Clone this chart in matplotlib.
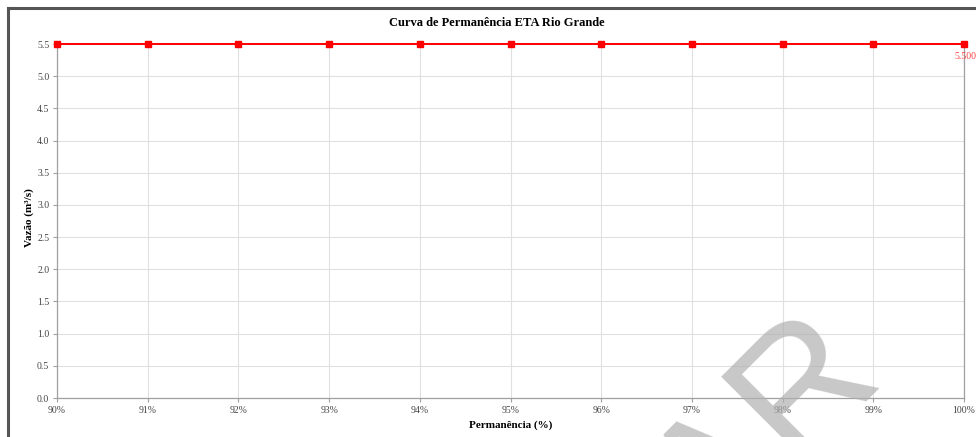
import matplotlib
matplotlib.use("Agg")
import matplotlib.pyplot as plt
from matplotlib.lines import Line2D
from matplotlib.ticker import FuncFormatter, MultipleLocator

# Data
permanencia = [90, 91, 92, 93, 94, 95, 96, 97, 98, 99, 100]
vazao = [5.5, 5.5, 5.5, 5.5, 5.5, 5.5, 5.5, 5.5, 5.5, 5.5, 5.5]
last_label = "5.500"
title = "Curva de Permanência ETA Rio Grande"
xlabel = "Permanência (%)"
ylabel = "Vazão (m³/s)"
watermark = "PRELIMINAR"

W, H = 976, 437
fig = plt.figure(figsize=(W / 100, H / 100), dpi=100)
fig.patch.set_facecolor("white")

def fx(px):
    return px / W

def fy(py):
    return 1 - py / H

ax = fig.add_axes([fx(57), fy(398), fx(964) - fx(57), fy(44) - fy(398)])
serif = ["Liberation Serif", "DejaVu Serif"]

ax.plot(permanencia, vazao, color="#ff0000", lw=1.4, marker="s", ms=4.5,
        mfc="#ff0000", mec="#ff0000", zorder=5, clip_on=False)
ax.annotate(last_label, (permanencia[-1], vazao[-1]), xytext=(1, -6),
            textcoords="offset points", ha="center", va="top",
            color="#ff4040", fontsize=7, family=serif)

ax.set_xlim(90, 100)
ax.set_ylim(0, 5.5)
ax.xaxis.set_major_locator(MultipleLocator(1))
ax.yaxis.set_major_locator(MultipleLocator(0.5))
ax.xaxis.set_major_formatter(FuncFormatter(lambda v, p: f"{v:.0f}%"))
ax.yaxis.set_major_formatter(FuncFormatter(lambda v, p: f"{v:.1f}"))
ax.grid(True, color="#e0e0e0", lw=0.8)
ax.set_axisbelow(True)
for side in ["left", "bottom", "right"]:
    ax.spines[side].set_color("#a0a0a0")
    ax.spines[side].set_linewidth(0.9)
ax.spines["top"].set_visible(False)
ax.tick_params(axis="both", colors="#a0a0a0", labelcolor="#444444",
               labelsize=7, length=3, width=0.8, pad=2.5)
for lab in ax.get_xticklabels() + ax.get_yticklabels():
    lab.set_family(serif)

ax.set_xlabel(xlabel, family=serif, fontsize=8, fontweight="bold", labelpad=4)
ax.set_ylabel(ylabel, family=serif, fontsize=8, fontweight="bold", labelpad=3)
ax.yaxis.set_label_coords(-(57 - 34) / (964 - 57), (398 - 218) / (398 - 44))
fig.text(fx(497), fy(23), title, family=serif, fontsize=9, fontweight="bold",
         ha="center", va="center")

# outer frame (top and left edges visible)
fig.add_artist(Line2D([fx(8), 1.0], [fy(8), fy(8)], color="#555555", lw=2.2,
                      transform=fig.transFigure))
fig.add_artist(Line2D([fx(8), fx(8)], [fy(8), 0.0], color="#555555", lw=2.2,
                      transform=fig.transFigure))

# watermark
fig.text(fx(882), fy(371), watermark, family=["Liberation Sans", "DejaVu Sans"],
         fontsize=126, color="#b0b0b0", alpha=0.7,
         rotation=45, rotation_mode="anchor", ha="right", va="baseline",
         zorder=10)

fig.savefig("out.png", dpi=100)
